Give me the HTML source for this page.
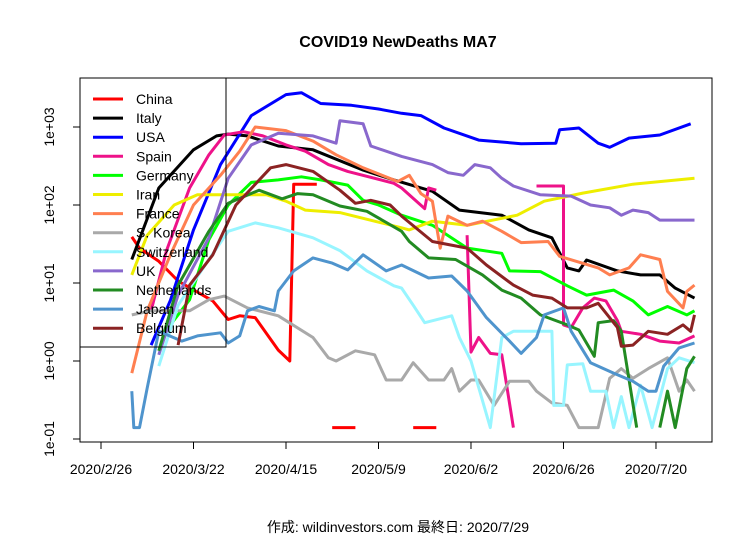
<!DOCTYPE html>
<html><head><meta charset="utf-8"><style>
body{margin:0;background:#fff;width:756px;height:540px;overflow:hidden}
svg{font-family:"Liberation Sans","Noto Sans CJK JP",sans-serif}
</style></head><body>
<svg id="chart" width="756" height="540" xmlns="http://www.w3.org/2000/svg">
<rect width="756" height="540" fill="#fff"/>
<text x="398" y="47" text-anchor="middle" font-size="16" font-weight="bold">COVID19 NewDeaths MA7</text>
<g id="plot"></g>
<rect x="80" y="78" width="632" height="364" fill="none" stroke="#000" stroke-width="1"/>
<g id="axes"></g>
<g id="legend"></g>
<text x="398" y="532" text-anchor="middle" font-size="14">作成: wildinvestors.com 最終日: 2020/7/29</text>
</svg>
<script>
// days since 2020/2/26
const xTickLabels = ["2020/2/26","2020/3/22","2020/4/15","2020/5/9","2020/6/2","2020/6/26","2020/7/20"];
const xTickDays = [0,24,48,72,96,120,144];
const yTickLabels = ["1e-01","1e+00","1e+01","1e+02","1e+03"];
const yTickValues = [0.1,1,10,100,1000];
const seriesNames = ["China","Italy","USA","Spain","Germany","Iran","France","S. Korea","Switzerland","UK","Netherlands","Japan","Belgium"];
const seriesColors = ["#ff0000","#000000","#0000ff","#ee1289","#00ff00","#eeee00","#ff7f50","#a9a9a9","#98f5ff","#8968cd","#228b22","#4f94cd","#8b2323"];
const china = [[8,39],[10,28],[15,19],[20,10.6],[29,5.9],[33,3.4],[36,3.8],[40,3.6],[46,1.38],[49,1.0],[50,185],[56,185],[57,null],[60,0.14],[66,0.14],[67,null],[81,0.14],[87,0.14]];
const italy = [[8,20],[15,165],[24,510],[30,770],[33,810],[38,770],[46,570],[55,510],[68,280],[76,210],[86,150],[93,86],[104,74],[111,48],[117,38],[121,15.6],[124,14.3],[126,19.7],[134,14.3],[140,12.7],[145,12.7],[149,8.6],[154,6.4]];
const usa = [[13,1.6],[18,6],[24,48],[31,330],[39,1400],[48,2600],[52,2750],[57,2000],[65,1900],[72,1700],[78,1500],[83,1400],[89,970],[98,680],[109,610],[118,620],[119,920],[124,970],[129,620],[132,550],[137,720],[145,790],[153,1100]];
const spain = [[13,4.4],[17,26],[23,165],[28,440],[32,790],[37,870],[42,770],[48,590],[53,490],[59,330],[64,270],[76,190],[78,165],[84,90],[85,165],[87,155],[88,null],[95,41],[96,1.3],[98,2.0],[101,1.25],[104,1.2],[107,0.14],[108,null],[113,175],[120,175],[120,2.9],[122,2.7],[125,4.8],[128,6.4],[131,5.9],[134,3.3],[135,2.4],[140,2.2],[145,1.8],[150,1.7],[154,2.1]];
const germany = [[17,2.5],[23,6.1],[28,36],[33,100],[39,195],[46,210],[52,230],[57,210],[64,180],[68,115],[72,100],[78,74],[86,55],[95,28],[104,24],[106,14.3],[114,14],[121,9.2],[126,7],[133,8.1],[138,5.9],[142,3.9],[147,5],[152,3.9],[154,4.4]];
const iran = [[8,12.7],[12,41],[19,100],[25,135],[33,135],[43,135],[48,112],[53,86],[62,80],[71,62],[78,51],[80,48],[86,62],[95,55],[108,74],[115,112],[125,142],[138,185],[154,220]];
const france = [[8,0.7],[12,4.4],[18,23],[24,100],[31,240],[36,490],[40,1000],[48,900],[55,660],[61,440],[68,300],[77,200],[80,240],[83,140],[86,112],[88,28],[90,72],[95,55],[99,62],[104,46],[109,33],[116,34],[119,22],[129,15.6],[132,12.7],[137,15.6],[140,23],[145,20],[147,7.8],[151,4.8],[152,7.8],[154,9.4]];
const korea = [[8,3.9],[13,4.4],[23,4.4],[28,6.1],[32,6.8],[38,4.8],[46,3.8],[55,2.0],[59,1.1],[61,1.0],[66,1.35],[71,1.2],[74,0.57],[78,0.57],[81,0.95],[85,0.57],[89,0.57],[91,0.8],[93,0.41],[96,0.57],[98,0.57],[102,0.27],[106,0.55],[111,0.55],[113,0.41],[117,0.29],[121,0.27],[124,0.14],[129,0.14],[132,0.6],[135,0.8],[138,0.6],[142,0.8],[147,1.1],[150,0.41],[152,0.57],[154,0.41]];
const swiss = [[15,0.86],[20,5.2],[28,20],[33,46],[40,59],[46,51],[55,38],[62,26],[69,14.3],[76,9.2],[78,8.6],[81,5.2],[84,3.1],[91,3.8],[93,2.0],[96,1.0],[101,0.14],[104,2.0],[107,2.4],[112,2.4],[117,2.4],[117.5,0.27],[120,0.27],[121,0.89],[125,0.92],[127,0.41],[131,0.41],[133,0.14],[135,0.35],[137,0.14],[140,0.49],[143,0.14],[147,0.8],[150,1.1],[154,0.95]];
const uk = [[15,1.2],[20,7],[28,38],[33,220],[39,590],[46,830],[55,770],[61,620],[62,1200],[68,1100],[70,570],[78,420],[86,330],[90,260],[94,240],[97,330],[101,300],[104,220],[107,175],[114,135],[122,130],[127,100],[132,92],[135,74],[138,86],[142,80],[145,64],[154,64]];
const nether = [[15,1.35],[20,9.4],[28,46],[33,105],[41,155],[47,120],[51,140],[55,135],[62,97],[69,83],[78,46],[80,34],[85,21],[92,20],[99,12.7],[104,8.1],[109,6.4],[114,3.9],[121,2.9],[124,2.5],[128,1.15],[129,3.1],[133,3.3],[135,2.4],[139,0.14],[140,null],[145,0.14],[147,0.41],[149,0.14],[152,0.8],[154,1.15]];
const japan = [[8,0.41],[8.5,0.14],[10,0.14],[12,0.45],[15,2.4],[21,1.8],[25,2.1],[31,2.3],[33,1.7],[36,2.1],[38,4.4],[41,5],[45,4.4],[46,7.9],[50,14.3],[55,21],[60,18],[64,14.7],[68,23],[74,14.3],[78,17],[85,11.6],[91,12.3],[95,7.9],[100,3.6],[106,1.8],[109,1.25],[113,2.0],[115,3.9],[120,4.8],[122,2.4],[127,0.95],[133,0.7],[138,0.55],[142,0.41],[144,0.41],[146,0.86],[150,1.47],[154,1.7]];
const belgium = [[20,1.6],[23,9.4],[29,23],[35,100],[44,300],[48,330],[55,270],[62,155],[66,105],[70,115],[75,100],[78,72],[86,34],[95,28],[100,17],[107,9.4],[112,7],[117,6.4],[121,4.8],[126,4.8],[129,5.5],[134,2.7],[135,1.55],[138,1.6],[142,2.4],[147,2.2],[151,2.9],[153,2.4],[154,3.9]];
const allSeries = [china,italy,usa,spain,germany,iran,france,korea,swiss,uk,nether,japan,belgium];

const NS="http://www.w3.org/2000/svg";
function xPos(d){return 101 + 3.854*d;}
function yPos(v){return 361 - 78*Math.log10(v);}
function mk(tag,attrs,parent){const e=document.createElementNS(NS,tag);for(const k in attrs)e.setAttribute(k,attrs[k]);parent.appendChild(e);return e;}
const plot=document.getElementById('plot'),axes=document.getElementById('axes'),legend=document.getElementById('legend');
allSeries.forEach((s,i)=>{
  let d="",pen=false;
  s.forEach(p=>{
    if(p[1]===null){pen=false;return;}
    d+=(pen?"L":"M")+xPos(p[0]).toFixed(1)+","+yPos(p[1]).toFixed(1);
    pen=true;
  });
  const path=mk('path',{d:d,fill:'none',stroke:seriesColors[i],'stroke-width':3,'stroke-linejoin':'round'},plot);
  
  
});
xTickDays.forEach((d,i)=>{
  const t=mk('line',{x1:xPos(d),x2:xPos(d),y1:442,y2:449,stroke:'#000'},axes);
  
  
  const l=mk('text',{x:xPos(d),y:474,'text-anchor':'middle','font-size':14},axes);
  l.textContent=xTickLabels[i];
  
  
});
yTickValues.forEach((v,i)=>{
  const y=yPos(v);
  const t=mk('line',{x1:73,x2:80,y1:y,y2:y,stroke:'#000'},axes);
  
  
  const l=mk('text',{x:0,y:0,'text-anchor':'middle','font-size':14,transform:`translate(54,${y}) rotate(-90)`},axes);
  l.textContent=yTickLabels[i];
  
  
});
const lb=mk('rect',{x:80,y:78,width:146,height:269,fill:'none',stroke:'#000'},legend);


seriesNames.forEach((n,i)=>{
  const y=99+19.1*i;
  const g=mk('g',{},legend);
  
  
  mk('line',{x1:93,x2:123,y1:y,y2:y,stroke:seriesColors[i],'stroke-width':3},g);
  const t=mk('text',{x:136,y:y+5,'font-size':14},g);
  t.textContent=n;
});
</script>
</body></html>
